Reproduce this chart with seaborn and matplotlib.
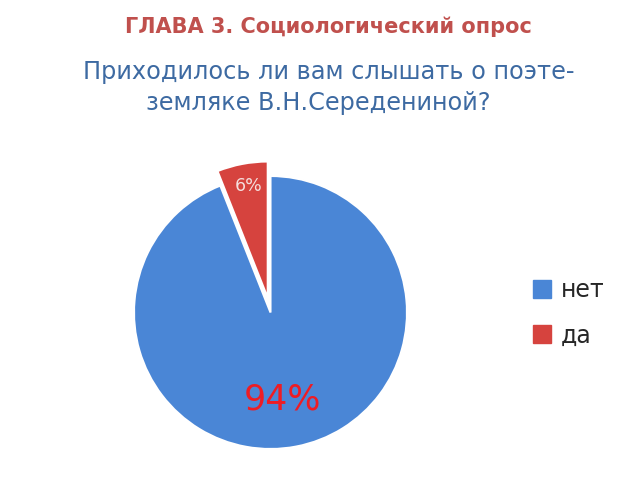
import matplotlib
matplotlib.use("Agg")
import matplotlib.pyplot as plt
import seaborn as sns
from matplotlib.lines import Line2D

# Data
labels = ["нет", "да"]
values = [94, 6]
pct_labels = ["94%", "6%"]
explode_frac = [0, 0.108]

colors = ["#4a86d6", "#d6433e"]
label_colors = ["#ee1c24", "#f4dedd"]

sns.set_theme(style="white")
plt.rcParams["font.family"] = ["DejaVu Sans"]

fig = plt.figure(figsize=(6.4, 4.8), dpi=100)
ax = fig.add_axes([0, 0, 1, 1])

# pie drawn in pixel-like coordinates so it sits where the reference has it
R = 136.5
cx, cy = 270.5, 167.5
wedges, _ = ax.pie(values, explode=[e * R for e in explode_frac], colors=colors,
                   startangle=90, counterclock=False, radius=R, center=(cx, cy),
                   wedgeprops=dict(edgecolor="white", linewidth=1.5))
ax.set_xlim(0, 640)
ax.set_ylim(0, 480)
ax.set_aspect("equal")
ax.axis("off")

# percentage labels
ax.text(282, 480 - 400, pct_labels[0], color=label_colors[0], fontsize=25,
        ha="center", va="center")
ax.text(249, 480 - 186, pct_labels[1], color=label_colors[1], fontsize=12.5,
        ha="center", va="center")

# titles
fig.text(328 / 640, 1 - 27 / 480, "ГЛАВА 3. Социологический опрос",
         color="#c0504d", fontsize=15, fontweight="bold", ha="center", va="center")
fig.text(329 / 640, 1 - 72 / 480, "Приходилось ли вам слышать о поэте-",
         color="#3d6aa2", fontsize=17.3, ha="center", va="center")
fig.text(318 / 640, 1 - 103 / 480, "земляке В.Н.Середениной?",
         color="#3d6aa2", fontsize=17.3, ha="center", va="center")

handles = [Line2D([0], [0], marker="s", linestyle="none", markersize=12.5,
                  markerfacecolor=c, markeredgecolor=c) for c in colors]
fig.legend(handles, labels, loc="center left", bbox_to_anchor=(509 / 640, 1 - 313 / 480),
           frameon=False, fontsize=17, labelspacing=0.9, handletextpad=0.3,
           handlelength=1.0)

fig.savefig("out.png", dpi=100)
